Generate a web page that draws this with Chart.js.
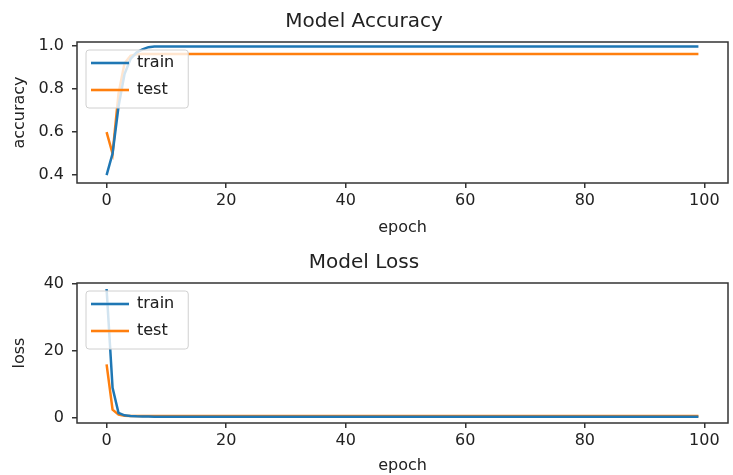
<!DOCTYPE html>
<html>
<head>
<meta charset="utf-8">
<script src="https://cdn.jsdelivr.net/npm/chart.js@4.4.1/dist/chart.umd.min.js"></script>
<style>
  html, body { margin: 0; padding: 0; background: #fff; }
  #wrap { position: relative; width: 733px; height: 475px; }
  canvas { position: absolute; left: 0; }
</style>
</head>
<body>
<div id="wrap">
  <canvas id="accChart" width="733" height="240" style="top:0"></canvas>
  <canvas id="lossChart" width="733" height="235" style="top:240px"></canvas>
</div>
<script>
// epochs 0..99
var epochs = [];
for (var i = 0; i < 100; i++) epochs.push(i);

var xTicks = [0, 20, 40, 60, 80, 100];
var accTicks = [0.4, 0.6, 0.8, 1.0];
var lossTicks = [0, 20, 40];

var trainAcc = [0.40, 0.50, 0.72, 0.87, 0.94, 0.97, 0.985, 0.995, 0.998, 0.998,
  0.998, 0.998, 0.998, 0.998, 0.998, 0.998, 0.998, 0.998, 0.998, 0.998,
  0.998, 0.998, 0.998, 0.998, 0.998, 0.998, 0.998, 0.998, 0.998, 0.998,
  0.998, 0.998, 0.998, 0.998, 0.998, 0.998, 0.998, 0.998, 0.998, 0.998,
  0.998, 0.998, 0.998, 0.998, 0.998, 0.998, 0.998, 0.998, 0.998, 0.998,
  0.998, 0.998, 0.998, 0.998, 0.998, 0.998, 0.998, 0.998, 0.998, 0.998,
  0.998, 0.998, 0.998, 0.998, 0.998, 0.998, 0.998, 0.998, 0.998, 0.998,
  0.998, 0.998, 0.998, 0.998, 0.998, 0.998, 0.998, 0.998, 0.998, 0.998,
  0.998, 0.998, 0.998, 0.998, 0.998, 0.998, 0.998, 0.998, 0.998, 0.998,
  0.998, 0.998, 0.998, 0.998, 0.998, 0.998, 0.998, 0.998, 0.998, 0.998];
var testAcc = [0.60, 0.50, 0.78, 0.92, 0.955, 0.962, 0.963, 0.963, 0.963, 0.963,
  0.963, 0.963, 0.963, 0.963, 0.963, 0.963, 0.963, 0.963, 0.963, 0.963,
  0.963, 0.963, 0.963, 0.963, 0.963, 0.963, 0.963, 0.963, 0.963, 0.963,
  0.963, 0.963, 0.963, 0.963, 0.963, 0.963, 0.963, 0.963, 0.963, 0.963,
  0.963, 0.963, 0.963, 0.963, 0.963, 0.963, 0.963, 0.963, 0.963, 0.963,
  0.963, 0.963, 0.963, 0.963, 0.963, 0.963, 0.963, 0.963, 0.963, 0.963,
  0.963, 0.963, 0.963, 0.963, 0.963, 0.963, 0.963, 0.963, 0.963, 0.963,
  0.963, 0.963, 0.963, 0.963, 0.963, 0.963, 0.963, 0.963, 0.963, 0.963,
  0.963, 0.963, 0.963, 0.963, 0.963, 0.963, 0.963, 0.963, 0.963, 0.963,
  0.963, 0.963, 0.963, 0.963, 0.963, 0.963, 0.963, 0.963, 0.963, 0.963];

var trainLoss = [38.5, 9.0, 1.5, 0.8, 0.6, 0.5, 0.45, 0.45, 0.4, 0.4,
  0.4, 0.4, 0.4, 0.4, 0.4, 0.4, 0.4, 0.4, 0.4, 0.4,
  0.4, 0.4, 0.4, 0.4, 0.4, 0.4, 0.4, 0.4, 0.4, 0.4,
  0.4, 0.4, 0.4, 0.4, 0.4, 0.4, 0.4, 0.4, 0.4, 0.4,
  0.4, 0.4, 0.4, 0.4, 0.4, 0.4, 0.4, 0.4, 0.4, 0.4,
  0.4, 0.4, 0.4, 0.4, 0.4, 0.4, 0.4, 0.4, 0.4, 0.4,
  0.4, 0.4, 0.4, 0.4, 0.4, 0.4, 0.4, 0.4, 0.4, 0.4,
  0.4, 0.4, 0.4, 0.4, 0.4, 0.4, 0.4, 0.4, 0.4, 0.4,
  0.4, 0.4, 0.4, 0.4, 0.4, 0.4, 0.4, 0.4, 0.4, 0.4,
  0.4, 0.4, 0.4, 0.4, 0.4, 0.4, 0.4, 0.4, 0.4, 0.4];
var testLoss = [16.0, 2.5, 1.0, 0.7, 0.6, 0.6, 0.6, 0.6, 0.6, 0.6,
  0.6, 0.6, 0.6, 0.6, 0.6, 0.6, 0.6, 0.6, 0.6, 0.6,
  0.6, 0.6, 0.6, 0.6, 0.6, 0.6, 0.6, 0.6, 0.6, 0.6,
  0.6, 0.6, 0.6, 0.6, 0.6, 0.6, 0.6, 0.6, 0.6, 0.6,
  0.6, 0.6, 0.6, 0.6, 0.6, 0.6, 0.6, 0.6, 0.6, 0.6,
  0.6, 0.6, 0.6, 0.6, 0.6, 0.6, 0.6, 0.6, 0.6, 0.6,
  0.6, 0.6, 0.6, 0.6, 0.6, 0.6, 0.6, 0.6, 0.6, 0.6,
  0.6, 0.6, 0.6, 0.6, 0.6, 0.6, 0.6, 0.6, 0.6, 0.6,
  0.6, 0.6, 0.6, 0.6, 0.6, 0.6, 0.6, 0.6, 0.6, 0.6,
  0.6, 0.6, 0.6, 0.6, 0.6, 0.6, 0.6, 0.6, 0.6, 0.6];

var FONT = "'DejaVu Sans', sans-serif";
var BLUE = '#1f77b4';
var ORANGE = '#ff7f0e';

// frame around the plot area + legend box drawn over the lines
var framePlugin = {
  id: 'frame',
  afterLayout: function (chart) {
    // vertical legend in chartArea gets top=0, move it inside the plot
    // (hit boxes get recomputed by the legend plugin's afterUpdate)
    var lg = chart.legend, a = chart.chartArea;
    if (!lg) return;
    lg.top = a.top + 2;
    lg.bottom = lg.top + lg.height;
    lg.left = a.left + 3;
    lg.right = lg.left + lg.width;
  },
  afterDatasetsDraw: function (chart) {
    var ctx = chart.ctx, a = chart.chartArea;
    var lg = chart.legend;
    if (lg && lg.legendHitBoxes && lg.legendHitBoxes.length) {
      var l = 1e9, t = 1e9, r = -1e9, b = -1e9;
      lg.legendHitBoxes.forEach(function (h) {
        l = Math.min(l, h.left); t = Math.min(t, h.top);
        r = Math.max(r, h.left + h.width); b = Math.max(b, h.top + h.height);
      });
      l -= 5; t -= 5; r += 14; b += 10;
      ctx.save();
      ctx.beginPath();
      ctx.roundRect(l, t, r - l, b - t, 3);
      ctx.fillStyle = 'rgba(255,255,255,0.8)';
      ctx.fill();
      ctx.strokeStyle = '#d0d0d0';
      ctx.lineWidth = 1;
      ctx.stroke();
      ctx.restore();
      lg.draw();
    }
    ctx.save();
    ctx.strokeStyle = '#333';
    ctx.lineWidth = 1.5;
    ctx.strokeRect(a.left, a.top, a.right - a.left, a.bottom - a.top);
    ctx.restore();
  }
};

function makeChart(id, title, yTitle, trainData, testData, yMin, yMax, yTickVals, yFmt, pad) {
  var ctx = document.getElementById(id).getContext('2d');
  return new Chart(ctx, {
    type: 'line',
    data: {
      labels: epochs,
      datasets: [
        { label: 'train', data: trainData, borderColor: BLUE, backgroundColor: BLUE, borderWidth: 2.5, pointRadius: 0, tension: 0 },
        { label: 'test', data: testData, borderColor: ORANGE, backgroundColor: ORANGE, borderWidth: 2.5, pointRadius: 0, tension: 0 }
      ]
    },
    options: {
      responsive: false,
      animation: false,
      layout: { padding: { left: 0, right: 5, top: 0, bottom: 0 } },
      plugins: {
        title: {
          display: true, text: title, color: '#222',
          font: { family: FONT, size: 20, weight: 'normal', lineHeight: 1.2 },
          padding: { top: pad.titleTop, bottom: pad.titleBottom }
        },
        legend: {
          position: 'chartArea', align: 'start',
          labels: {
            color: '#222', font: { family: FONT, size: 16 },
            usePointStyle: true, pointStyle: 'line', pointStyleWidth: 38,
            padding: 11
          }
        },
        tooltip: { enabled: false }
      },
      scales: {
        x: {
          type: 'linear', min: -4.95, max: 103.95,
          afterBuildTicks: function (s) { s.ticks = xTicks.map(function (v) { return { value: v }; }); },
          afterFit: function (s) { s.height = pad.xHeight; },
          grid: { display: true, drawOnChartArea: false, drawTicks: true, tickLength: 5, color: '#333', lineWidth: 1.5 },
          border: { display: false },
          ticks: { color: '#222', font: { family: FONT, size: 16 }, padding: 3, maxRotation: 0 },
          title: { display: true, text: 'epoch', color: '#222', font: { family: FONT, size: 16 }, padding: { top: 0, bottom: pad.xTitleBottom } }
        },
        y: {
          type: 'linear', min: yMin, max: yMax,
          afterBuildTicks: function (s) { s.ticks = yTickVals.map(function (v) { return { value: v }; }); },
          afterFit: function (s) { s.width = 77; },
          grid: { display: true, drawOnChartArea: false, drawTicks: true, tickLength: 5, color: '#333', lineWidth: 1.5 },
          border: { display: false },
          ticks: { color: '#222', font: { family: FONT, size: 16 }, padding: 8, callback: yFmt },
          title: { display: true, text: yTitle, color: '#222', font: { family: FONT, size: 16 }, padding: { top: 10, bottom: 0 } }
        }
      }
    },
    plugins: [framePlugin]
  });
}

makeChart('accChart', 'Model Accuracy', 'accuracy', trainAcc, testAcc, 0.363, 1.019, accTicks,
  function (v) { return v.toFixed(1); },
  { titleTop: 10, titleBottom: 8, xHeight: 57, xTitleBottom: 3 });

makeChart('lossChart', 'Model Loss', 'loss', trainLoss, testLoss, -1.5, 40.3, lossTicks,
  function (v) { return String(v); },
  { titleTop: 11, titleBottom: 8, xHeight: 52, xTitleBottom: 0 });
</script>
</body>
</html>
